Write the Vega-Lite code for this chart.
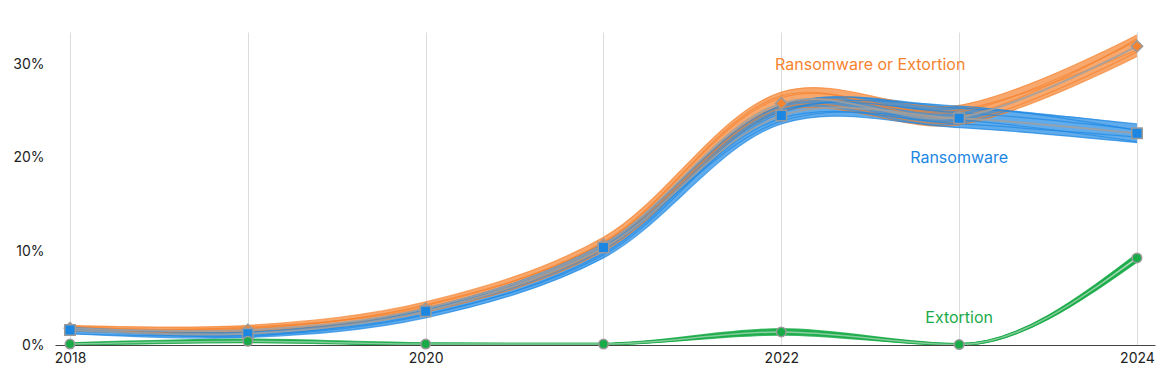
{
  "$schema": "https://vega.github.io/schema/vega-lite/v6.json",
  "width": 1100,
  "height": 313,
  "autosize": {"type": "none"},
  "padding": {"left": 55, "top": 32, "right": 9, "bottom": 32},
  "background": "white",
  "config": {
    "font": "Inter",
    "view": {"stroke": null},
    "axis": {"labelFont": "Inter", "labelFontSize": 14, "labelColor": "#222"}
  },
  "datasets": {
    "samples": [
      {"series": "Ransomware or Extortion", "variant": 1, "year": 2018, "v": 0.021}, {"series": "Ransomware or Extortion", "variant": 1, "year": 2019, "v": 0.021}, {"series": "Ransomware or Extortion", "variant": 1, "year": 2020, "v": 0.046}, {"series": "Ransomware or Extortion", "variant": 1, "year": 2021, "v": 0.115}, {"series": "Ransomware or Extortion", "variant": 1, "year": 2022, "v": 0.270}, {"series": "Ransomware or Extortion", "variant": 1, "year": 2023, "v": 0.256}, {"series": "Ransomware or Extortion", "variant": 1, "year": 2024, "v": 0.331},
      {"series": "Ransomware or Extortion", "variant": 2, "year": 2018, "v": 0.015}, {"series": "Ransomware or Extortion", "variant": 2, "year": 2019, "v": 0.014}, {"series": "Ransomware or Extortion", "variant": 2, "year": 2020, "v": 0.035}, {"series": "Ransomware or Extortion", "variant": 2, "year": 2021, "v": 0.100}, {"series": "Ransomware or Extortion", "variant": 2, "year": 2022, "v": 0.249}, {"series": "Ransomware or Extortion", "variant": 2, "year": 2023, "v": 0.235}, {"series": "Ransomware or Extortion", "variant": 2, "year": 2024, "v": 0.308},
      {"series": "Ransomware or Extortion", "variant": 3, "year": 2018, "v": 0.019}, {"series": "Ransomware or Extortion", "variant": 3, "year": 2019, "v": 0.018}, {"series": "Ransomware or Extortion", "variant": 3, "year": 2020, "v": 0.042}, {"series": "Ransomware or Extortion", "variant": 3, "year": 2021, "v": 0.110}, {"series": "Ransomware or Extortion", "variant": 3, "year": 2022, "v": 0.264}, {"series": "Ransomware or Extortion", "variant": 3, "year": 2023, "v": 0.249}, {"series": "Ransomware or Extortion", "variant": 3, "year": 2024, "v": 0.325},
      {"series": "Ransomware or Extortion", "variant": 4, "year": 2018, "v": 0.016}, {"series": "Ransomware or Extortion", "variant": 4, "year": 2019, "v": 0.015}, {"series": "Ransomware or Extortion", "variant": 4, "year": 2020, "v": 0.037}, {"series": "Ransomware or Extortion", "variant": 4, "year": 2021, "v": 0.103}, {"series": "Ransomware or Extortion", "variant": 4, "year": 2022, "v": 0.253}, {"series": "Ransomware or Extortion", "variant": 4, "year": 2023, "v": 0.238}, {"series": "Ransomware or Extortion", "variant": 4, "year": 2024, "v": 0.313},
      {"series": "Ransomware or Extortion", "variant": 5, "year": 2018, "v": 0.020}, {"series": "Ransomware or Extortion", "variant": 5, "year": 2019, "v": 0.017}, {"series": "Ransomware or Extortion", "variant": 5, "year": 2020, "v": 0.043}, {"series": "Ransomware or Extortion", "variant": 5, "year": 2021, "v": 0.109}, {"series": "Ransomware or Extortion", "variant": 5, "year": 2022, "v": 0.266}, {"series": "Ransomware or Extortion", "variant": 5, "year": 2023, "v": 0.244}, {"series": "Ransomware or Extortion", "variant": 5, "year": 2024, "v": 0.327},
      {"series": "Ransomware or Extortion", "variant": 6, "year": 2018, "v": 0.017}, {"series": "Ransomware or Extortion", "variant": 6, "year": 2019, "v": 0.019}, {"series": "Ransomware or Extortion", "variant": 6, "year": 2020, "v": 0.040}, {"series": "Ransomware or Extortion", "variant": 6, "year": 2021, "v": 0.105}, {"series": "Ransomware or Extortion", "variant": 6, "year": 2022, "v": 0.256}, {"series": "Ransomware or Extortion", "variant": 6, "year": 2023, "v": 0.251}, {"series": "Ransomware or Extortion", "variant": 6, "year": 2024, "v": 0.315},
      {"series": "Ransomware", "variant": 1, "year": 2018, "v": 0.019}, {"series": "Ransomware", "variant": 1, "year": 2019, "v": 0.014}, {"series": "Ransomware", "variant": 1, "year": 2020, "v": 0.039}, {"series": "Ransomware", "variant": 1, "year": 2021, "v": 0.108}, {"series": "Ransomware", "variant": 1, "year": 2022, "v": 0.256}, {"series": "Ransomware", "variant": 1, "year": 2023, "v": 0.253}, {"series": "Ransomware", "variant": 1, "year": 2024, "v": 0.236},
      {"series": "Ransomware", "variant": 2, "year": 2018, "v": 0.012}, {"series": "Ransomware", "variant": 2, "year": 2019, "v": 0.008}, {"series": "Ransomware", "variant": 2, "year": 2020, "v": 0.029}, {"series": "Ransomware", "variant": 2, "year": 2021, "v": 0.093}, {"series": "Ransomware", "variant": 2, "year": 2022, "v": 0.236}, {"series": "Ransomware", "variant": 2, "year": 2023, "v": 0.232}, {"series": "Ransomware", "variant": 2, "year": 2024, "v": 0.216},
      {"series": "Ransomware", "variant": 3, "year": 2018, "v": 0.017}, {"series": "Ransomware", "variant": 3, "year": 2019, "v": 0.010}, {"series": "Ransomware", "variant": 3, "year": 2020, "v": 0.032}, {"series": "Ransomware", "variant": 3, "year": 2021, "v": 0.098}, {"series": "Ransomware", "variant": 3, "year": 2022, "v": 0.250}, {"series": "Ransomware", "variant": 3, "year": 2023, "v": 0.248}, {"series": "Ransomware", "variant": 3, "year": 2024, "v": 0.230},
      {"series": "Ransomware", "variant": 4, "year": 2018, "v": 0.015}, {"series": "Ransomware", "variant": 4, "year": 2019, "v": 0.013}, {"series": "Ransomware", "variant": 4, "year": 2020, "v": 0.037}, {"series": "Ransomware", "variant": 4, "year": 2021, "v": 0.106}, {"series": "Ransomware", "variant": 4, "year": 2022, "v": 0.242}, {"series": "Ransomware", "variant": 4, "year": 2023, "v": 0.236}, {"series": "Ransomware", "variant": 4, "year": 2024, "v": 0.222},
      {"series": "Ransomware", "variant": 5, "year": 2018, "v": 0.012}, {"series": "Ransomware", "variant": 5, "year": 2019, "v": 0.011}, {"series": "Ransomware", "variant": 5, "year": 2020, "v": 0.033}, {"series": "Ransomware", "variant": 5, "year": 2021, "v": 0.096}, {"series": "Ransomware", "variant": 5, "year": 2022, "v": 0.248}, {"series": "Ransomware", "variant": 5, "year": 2023, "v": 0.255}, {"series": "Ransomware", "variant": 5, "year": 2024, "v": 0.229},
      {"series": "Ransomware", "variant": 6, "year": 2018, "v": 0.018}, {"series": "Ransomware", "variant": 6, "year": 2019, "v": 0.009}, {"series": "Ransomware", "variant": 6, "year": 2020, "v": 0.038}, {"series": "Ransomware", "variant": 6, "year": 2021, "v": 0.105}, {"series": "Ransomware", "variant": 6, "year": 2022, "v": 0.239}, {"series": "Ransomware", "variant": 6, "year": 2023, "v": 0.240}, {"series": "Ransomware", "variant": 6, "year": 2024, "v": 0.217},
      {"series": "Extortion", "variant": 1, "year": 2018, "v": 0.002}, {"series": "Extortion", "variant": 1, "year": 2019, "v": 0.006}, {"series": "Extortion", "variant": 1, "year": 2020, "v": 0.002}, {"series": "Extortion", "variant": 1, "year": 2021, "v": 0.0015}, {"series": "Extortion", "variant": 1, "year": 2022, "v": 0.017}, {"series": "Extortion", "variant": 1, "year": 2023, "v": 0.001}, {"series": "Extortion", "variant": 1, "year": 2024, "v": 0.097},
      {"series": "Extortion", "variant": 2, "year": 2018, "v": 0.000}, {"series": "Extortion", "variant": 2, "year": 2019, "v": 0.003}, {"series": "Extortion", "variant": 2, "year": 2020, "v": 0.000}, {"series": "Extortion", "variant": 2, "year": 2021, "v": 0.0005}, {"series": "Extortion", "variant": 2, "year": 2022, "v": 0.011}, {"series": "Extortion", "variant": 2, "year": 2023, "v": 0.000}, {"series": "Extortion", "variant": 2, "year": 2024, "v": 0.089},
      {"series": "Extortion", "variant": 3, "year": 2018, "v": 0.001}, {"series": "Extortion", "variant": 3, "year": 2019, "v": 0.005}, {"series": "Extortion", "variant": 3, "year": 2020, "v": 0.001}, {"series": "Extortion", "variant": 3, "year": 2021, "v": 0.001}, {"series": "Extortion", "variant": 3, "year": 2022, "v": 0.016}, {"series": "Extortion", "variant": 3, "year": 2023, "v": 0.0005}, {"series": "Extortion", "variant": 3, "year": 2024, "v": 0.095},
      {"series": "Extortion", "variant": 4, "year": 2018, "v": 0.0015}, {"series": "Extortion", "variant": 4, "year": 2019, "v": 0.0035}, {"series": "Extortion", "variant": 4, "year": 2020, "v": 0.0015}, {"series": "Extortion", "variant": 4, "year": 2021, "v": 0.001}, {"series": "Extortion", "variant": 4, "year": 2022, "v": 0.012}, {"series": "Extortion", "variant": 4, "year": 2023, "v": 0.0005}, {"series": "Extortion", "variant": 4, "year": 2024, "v": 0.091},
      {"series": "Extortion", "variant": 5, "year": 2018, "v": 0.0005}, {"series": "Extortion", "variant": 5, "year": 2019, "v": 0.0045}, {"series": "Extortion", "variant": 5, "year": 2020, "v": 0.0005}, {"series": "Extortion", "variant": 5, "year": 2021, "v": 0.001}, {"series": "Extortion", "variant": 5, "year": 2022, "v": 0.015}, {"series": "Extortion", "variant": 5, "year": 2023, "v": 0.001}, {"series": "Extortion", "variant": 5, "year": 2024, "v": 0.096},
      {"series": "Extortion", "variant": 6, "year": 2018, "v": 0.001}, {"series": "Extortion", "variant": 6, "year": 2019, "v": 0.004}, {"series": "Extortion", "variant": 6, "year": 2020, "v": 0.001}, {"series": "Extortion", "variant": 6, "year": 2021, "v": 0.001}, {"series": "Extortion", "variant": 6, "year": 2022, "v": 0.013}, {"series": "Extortion", "variant": 6, "year": 2023, "v": 0.000}, {"series": "Extortion", "variant": 6, "year": 2024, "v": 0.090}
    ],
    "central": [
      {"series": "Ransomware or Extortion", "year": 2018, "v": 0.018}, {"series": "Ransomware or Extortion", "year": 2019, "v": 0.016}, {"series": "Ransomware or Extortion", "year": 2020, "v": 0.039}, {"series": "Ransomware or Extortion", "year": 2021, "v": 0.107}, {"series": "Ransomware or Extortion", "year": 2022, "v": 0.258}, {"series": "Ransomware or Extortion", "year": 2023, "v": 0.243}, {"series": "Ransomware or Extortion", "year": 2024, "v": 0.319},
      {"series": "Ransomware", "year": 2018, "v": 0.016}, {"series": "Ransomware", "year": 2019, "v": 0.012}, {"series": "Ransomware", "year": 2020, "v": 0.036}, {"series": "Ransomware", "year": 2021, "v": 0.104}, {"series": "Ransomware", "year": 2022, "v": 0.245}, {"series": "Ransomware", "year": 2023, "v": 0.242}, {"series": "Ransomware", "year": 2024, "v": 0.226},
      {"series": "Extortion", "year": 2018, "v": 0.001}, {"series": "Extortion", "year": 2019, "v": 0.004}, {"series": "Extortion", "year": 2020, "v": 0.001}, {"series": "Extortion", "year": 2021, "v": 0.001}, {"series": "Extortion", "year": 2022, "v": 0.014}, {"series": "Extortion", "year": 2023, "v": 0.0005}, {"series": "Extortion", "year": 2024, "v": 0.093}
    ],
    "labels": [
      {"series": "Ransomware or Extortion", "year": 2022.5, "v": 0.299},
      {"series": "Ransomware", "year": 2023.0, "v": 0.200},
      {"series": "Extortion", "year": 2023.0, "v": 0.029}
    ]
  },
  "encoding": {
    "x": {
      "field": "year", "type": "quantitative",
      "scale": {"domain": [2017.9157, 2024.1014], "nice": false, "zero": false},
      "axis": {
        "title": null, "values": [2018, 2019, 2020, 2021, 2022, 2023, 2024],
        "labelExpr": "datum.value % 2 == 0 ? format(datum.value, 'd') : ''",
        "grid": true, "gridColor": "#dcdcdc", "gridWidth": 1,
        "ticks": false, "domainColor": "#444", "domainWidth": 1,
        "labelPadding": 6, "labelFlush": false
      }
    },
    "y": {
      "field": "v", "type": "quantitative",
      "scale": {"domain": [0, 0.3342], "nice": false},
      "axis": {
        "title": null, "values": [0, 0.1, 0.2, 0.3], "format": ".0%",
        "grid": false, "domain": false, "ticks": false, "labelPadding": 11
      }
    },
    "color": {
      "field": "series", "type": "nominal", "legend": null,
      "scale": {
        "domain": ["Ransomware or Extortion", "Ransomware", "Extortion"],
        "range": ["#f5832f", "#1c87e3", "#1aab49"]
      }
    }
  },
  "layer": [
    {
      "data": {"name": "samples"},
      "transform": [
        {"filter": "datum.series != 'Extortion'"},
        {"aggregate": [{"op": "min", "field": "v", "as": "lo"}, {"op": "max", "field": "v", "as": "hi"}], "groupby": ["series", "year"]}
      ],
      "mark": {"type": "area", "interpolate": "catmull-rom", "opacity": 0.7, "clip": true},
      "encoding": {"y": {"field": "lo", "type": "quantitative"}, "y2": {"field": "hi"}}
    },
    {
      "data": {"name": "samples"},
      "transform": [{"filter": "datum.series != 'Extortion'"}],
      "mark": {"type": "line", "interpolate": "catmull-rom", "strokeWidth": 1.2, "opacity": 0.7, "clip": true},
      "encoding": {"detail": {"field": "variant", "type": "nominal"}}
    },
    {
      "data": {"name": "central"},
      "transform": [{"filter": "datum.series != 'Extortion'"}],
      "mark": {"type": "line", "interpolate": "catmull-rom", "strokeWidth": 2, "opacity": 0.85, "clip": true},
      "encoding": {"detail": {"field": "series", "type": "nominal"}, "color": {"value": "#a0a0a0"}}
    },
    {
      "data": {"name": "samples"},
      "transform": [{"filter": "datum.series == 'Extortion'"}],
      "mark": {"type": "line", "interpolate": "monotone", "strokeWidth": 2, "opacity": 0.85, "clip": true},
      "encoding": {"detail": {"field": "variant", "type": "nominal"}}
    },
    {
      "data": {"name": "central"},
      "transform": [{"filter": "datum.series == 'Extortion'"}],
      "mark": {"type": "line", "interpolate": "monotone", "strokeWidth": 1.5, "opacity": 0.8, "clip": true},
      "encoding": {"color": {"value": "#9fd3ae"}}
    },
    {
      "data": {"name": "central"},
      "mark": {"type": "point", "filled": true, "stroke": "#9a9a9a", "strokeWidth": 1.5, "opacity": 1},
      "encoding": {
        "shape": {
          "field": "series", "type": "nominal", "legend": null,
          "scale": {"domain": ["Ransomware or Extortion", "Ransomware", "Extortion"], "range": ["diamond", "square", "circle"]}
        },
        "size": {
          "field": "series", "type": "nominal", "legend": null,
          "scale": {"domain": ["Ransomware or Extortion", "Ransomware", "Extortion"], "range": [130, 90, 80]}
        },
        "fill": {
          "field": "series", "type": "nominal", "legend": null,
          "scale": {"domain": ["Ransomware or Extortion", "Ransomware", "Extortion"], "range": ["#f5832f", "#1c87e3", "#1aab49"]}
        }
      }
    },
    {
      "data": {"name": "labels"},
      "mark": {"type": "text", "fontSize": 16, "font": "Inter", "align": "center", "baseline": "middle"},
      "encoding": {"text": {"field": "series", "type": "nominal"}}
    }
  ]
}
